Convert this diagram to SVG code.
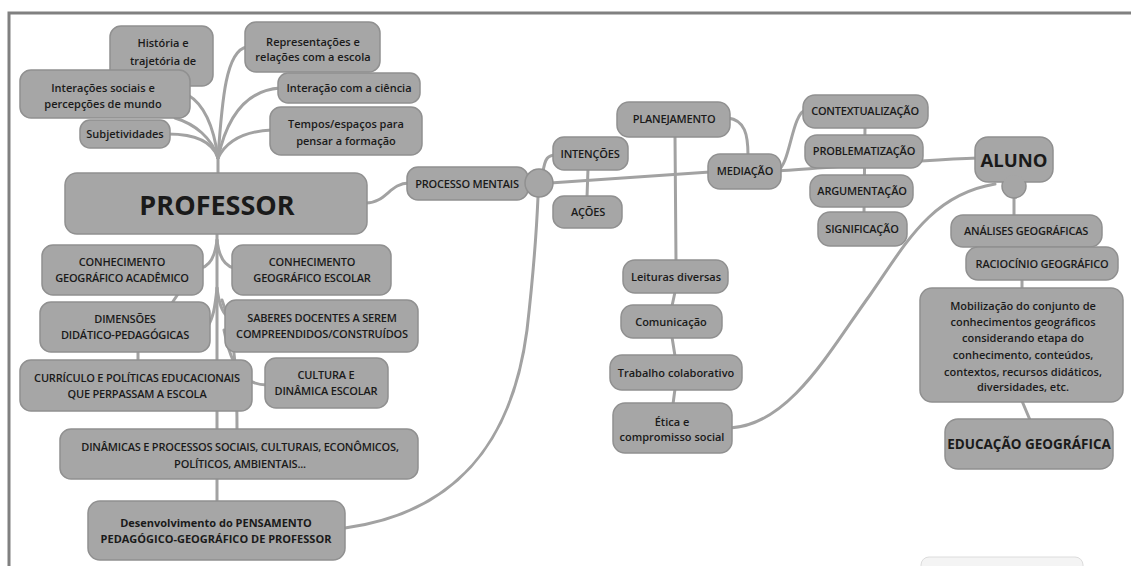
<svg xmlns="http://www.w3.org/2000/svg" width="1131" height="566" viewBox="0 0 1131 566">
<style>
.bg{fill:#ffffff}
.frame{stroke:#808080;stroke-width:3;fill:none}
.c path{fill:none;stroke:#a2a2a2;stroke-width:3;stroke-linecap:round}
.n rect,.n circle{fill:#a6a6a6;stroke:#909090;stroke-width:1.5}
.n text{font-family:"Open Sans","DejaVu Sans",sans-serif;font-size:11px;font-weight:600;fill:#1a1a1a;text-anchor:middle}
.n text.u{letter-spacing:-0.2px}
.n text.b{font-weight:bold}
</style>
<rect class="bg" x="0" y="0" width="1131" height="566"/>
<path class="frame" d="M9,566 L9,13 L1131,13"/>
<rect x="921" y="557" width="162" height="20" rx="8" fill="#f4f4f4" stroke="#dcdcdc" stroke-width="1"/>

<g id="connectors" class="c">
  <path d="M218,174 L218,150"/>
  <path d="M218,158 C212,140 192,134 168,134"/>
  <path d="M218,158 C212,138 195,124 175,118"/>
  <path d="M218,158 C214,128 205,105 188,95"/>
  <path d="M218,158 C222,100 226,50 247,47"/>
  <path d="M218,158 C228,112 250,90 280,88"/>
  <path d="M218,158 C228,138 248,131 272,130"/>
  <path d="M217,234 L217,502"/>
  <path d="M217,240 C215,258 209,266 201,268"/>
  <path d="M217,240 C219,258 225,266 234,268"/>
  <path d="M178,294 L172,303"/>
  <path d="M217,288 C215,308 213,318 208,326"/>
  <path d="M217,288 C219,304 222,312 227,316"/>
  <path d="M138,351 L138,361"/>
  <path d="M222,300 C233,330 237,360 237,430"/>
  <path d="M224,330 C232,370 245,385 267,385"/>
  <path d="M366,203 C386,203 390,183 409,183"/>
  <path d="M543,172 C545,158 548,155 556,155"/>
  <path d="M588,169 L587,197"/>
  <path d="M550,183 C620,178 680,174 710,172"/>
  <path d="M728,118 C745,120 748,135 748,155"/>
  <path d="M675,136 L676,261"/>
  <path d="M675,292 L672,306"/>
  <path d="M672,337 L675,356"/>
  <path d="M675,389 L673,404"/>
  <path d="M778,170 C790,165 792,112 806,110"/>
  <path d="M778,171 C850,166 920,160 978,158"/>
  <path d="M865,127 L864,213"/>
  <path d="M345,528 C440,515 510,460 527,330 C535,260 537,220 538,197"/>
  <path d="M730,428 C790,425 830,350 870,295 C905,245 930,195 995,184"/>
  <path d="M1014,190 L1014,216"/>
  <path d="M1022,279 L1022,289"/>
  <path d="M1022,401 L1030,420"/>
</g>

<g id="historia" class="n"><rect x="110" y="26" width="103" height="60" rx="11"/><text x="163" y="47">História e</text><text x="163" y="65">trajetória de</text></g>
<g id="interacoes" class="n"><rect x="20" y="70" width="170" height="48" rx="11"/><text x="103" y="92">Interações sociais e</text><text x="103" y="108">percepções de mundo</text></g>
<g id="subjetividades" class="n"><rect x="80" y="120" width="90" height="28" rx="10"/><text x="125" y="138">Subjetividades</text></g>
<g id="representacoes" class="n"><rect x="245" y="22" width="135" height="50" rx="11"/><text x="313" y="46">Representações e</text><text x="313" y="61">relações com a escola</text></g>
<g id="ciencia" class="n"><rect x="278" y="73" width="142" height="30" rx="10"/><text x="349" y="92">Interação com a ciência</text></g>
<g id="tempos" class="n"><rect x="270" y="107" width="152" height="48" rx="11"/><text x="346" y="128">Tempos/espaços para</text><text x="346" y="145">pensar a formação</text></g>

<g id="professor" class="n"><rect x="65" y="173" width="302" height="61" rx="12"/><text class="b" x="217" y="215" style="font-size:27px">PROFESSOR</text></g>

<g id="academico" class="n"><rect x="42" y="245" width="161" height="50" rx="11"/><text class="u" x="122" y="266">CONHECIMENTO</text><text class="u" x="122" y="282">GEOGRÁFICO ACADÊMICO</text></g>
<g id="escolar" class="n"><rect x="232" y="245" width="159" height="50" rx="11"/><text class="u" x="312" y="266">CONHECIMENTO</text><text class="u" x="312" y="282">GEOGRÁFICO ESCOLAR</text></g>
<g id="dimensoes" class="n"><rect x="40" y="302" width="170" height="50" rx="11"/><text class="u" x="125" y="323">DIMENSÕES</text><text class="u" x="125" y="339">DIDÁTICO-PEDAGÓGICAS</text></g>
<g id="saberes" class="n"><rect x="225" y="300" width="193" height="52" rx="11"/><text class="u" x="322" y="322">SABERES DOCENTES A SEREM</text><text class="u" x="322" y="338">COMPREENDIDOS/CONSTRUÍDOS</text></g>
<g id="curriculo" class="n"><rect x="20" y="360" width="232" height="51" rx="11"/><text class="u" x="137" y="382">CURRÍCULO E POLÍTICAS EDUCACIONAIS</text><text class="u" x="137" y="398">QUE PERPASSAM A ESCOLA</text></g>
<g id="cultura" class="n"><rect x="265" y="358" width="123" height="50" rx="11"/><text class="u" x="326" y="379">CULTURA E</text><text class="u" x="326" y="395">DINÂMICA ESCOLAR</text></g>
<g id="dinamicas" class="n"><rect x="60" y="429" width="358" height="50" rx="11"/><text class="u" x="240" y="451">DINÂMICAS E PROCESSOS SOCIAIS, CULTURAIS, ECONÔMICOS,</text><text class="u" x="240" y="468">POLÍTICOS, AMBIENTAIS...</text></g>
<g id="desenvolvimento" class="n"><rect x="88" y="501" width="257" height="59" rx="12"/><text class="b" x="216" y="527">Desenvolvimento do PENSAMENTO</text><text class="b" x="216" y="543">PEDAGÓGICO-GEOGRÁFICO DE PROFESSOR</text></g>

<g id="processo" class="n"><rect x="407" y="167" width="121" height="33" rx="11"/><text class="u" x="467" y="188">PROCESSO MENTAIS</text></g>
<g id="hub" class="n"><circle cx="539" cy="183" r="14"/></g>
<g id="intencoes" class="n"><rect x="553" y="137" width="75" height="33" rx="11"/><text class="u" x="590" y="158">INTENÇÕES</text></g>
<g id="acoes" class="n"><rect x="553" y="196" width="69" height="32" rx="11"/><text class="u" x="588" y="216">AÇÕES</text></g>
<g id="planejamento" class="n"><rect x="617" y="102" width="113" height="35" rx="12"/><text class="u" x="674" y="123">PLANEJAMENTO</text></g>
<g id="mediacao" class="n"><rect x="708" y="154" width="73" height="35" rx="12"/><text class="u" x="745" y="175">MEDIAÇÃO</text></g>
<g id="leituras" class="n"><rect x="623" y="260" width="105" height="33" rx="12"/><text x="676" y="281">Leituras diversas</text></g>
<g id="comunicacao" class="n"><rect x="621" y="305" width="101" height="33" rx="12"/><text x="671" y="326">Comunicação</text></g>
<g id="trabalho" class="n"><rect x="610" y="355" width="132" height="35" rx="12"/><text x="676" y="377">Trabalho colaborativo</text></g>
<g id="etica" class="n"><rect x="613" y="403" width="119" height="50" rx="12"/><text x="672" y="426">Ética e</text><text x="672" y="441">compromisso social</text></g>

<g id="contextualizacao" class="n"><rect x="803" y="95" width="125" height="33" rx="12"/><text class="u" x="865" y="115">CONTEXTUALIZAÇÃO</text></g>
<g id="problematizacao" class="n"><rect x="805" y="135" width="118" height="33" rx="12"/><text class="u" x="864" y="155">PROBLEMATIZAÇÃO</text></g>
<g id="argumentacao" class="n"><rect x="810" y="175" width="103" height="32" rx="12"/><text class="u" x="862" y="195">ARGUMENTAÇÃO</text></g>
<g id="significacao" class="n"><rect x="818" y="212" width="89" height="34" rx="12"/><text class="u" x="862" y="233">SIGNIFICAÇÃO</text></g>

<g id="aluno" class="n"><circle cx="1014" cy="186" r="12"/><rect x="975" y="137" width="78" height="45" rx="13"/><circle cx="1014" cy="186" r="11" style="stroke:none"/><text class="b" x="1014" y="167" style="font-size:18.5px">ALUNO</text></g>
<g id="analises" class="n"><rect x="951" y="215" width="151" height="32" rx="12"/><text class="u" x="1026" y="235">ANÁLISES GEOGRÁFICAS</text></g>
<g id="raciocinio" class="n"><rect x="966" y="247" width="152" height="33" rx="12"/><text class="u" x="1042" y="268">RACIOCÍNIO GEOGRÁFICO</text></g>
<g id="mobilizacao" class="n"><rect x="920" y="288" width="203" height="114" rx="12"/><text x="1023" y="310">Mobilização do conjunto de</text><text x="1023" y="326">conhecimentos geográficos</text><text x="1023" y="342">considerando etapa do</text><text x="1023" y="359">conhecimento, conteúdos,</text><text x="1023" y="376">contextos, recursos didáticos,</text><text x="1023" y="391">diversidades, etc.</text></g>
<g id="educacao" class="n"><rect x="945" y="419" width="168" height="50" rx="13"/><text class="b" x="1029" y="449" style="font-size:13.5px">EDUCAÇÃO GEOGRÁFICA</text></g>
</svg>
